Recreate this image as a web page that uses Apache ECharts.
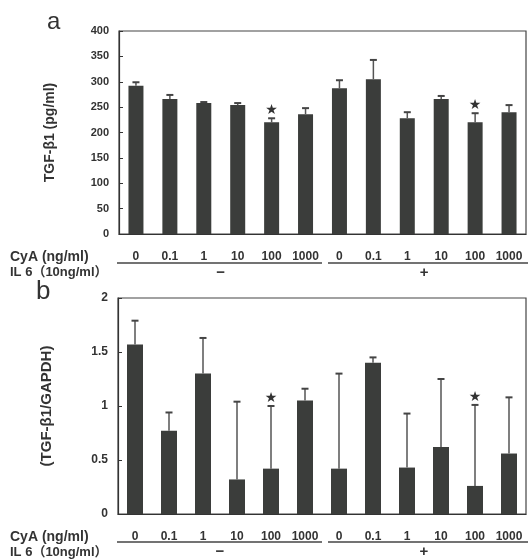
<!DOCTYPE html>
<html>
<head>
<meta charset="utf-8">
<script src="https://cdn.jsdelivr.net/npm/echarts@6/dist/echarts.min.js"></script>
<style>html,body{margin:0;padding:0;background:#fff;}#c{width:530px;height:560px;}</style>
</head>
<body>
<div id="c"></div>
<script>
// ---- data ----
const cyaLabels = ['0','0.1','1','10','100','1000','0','0.1','1','10','100','1000'];
const il6Groups = ['\u2212','+'];
const aMeans = [292, 266, 258, 254, 220, 236, 287, 305, 228, 266, 220, 240];
const aErrTop = [299, 274, 260, 258, 228, 248, 303, 343, 240, 272, 238, 254];
const bMeans = [1.57, 0.77, 1.30, 0.32, 0.42, 1.05, 0.42, 1.40, 0.43, 0.62, 0.26, 0.56];
const bErrTop = [1.79, 0.94, 1.63, 1.04, 1.00, 1.16, 1.30, 1.45, 0.93, 1.25, 1.01, 1.08];
const starFlags = [0,0,0,0,1,0,0,0,0,0,1,0];
const aTicks = [0, 50, 100, 150, 200, 250, 300, 350, 400];
const bTicks = [0, 0.5, 1, 1.5, 2];

const FONT = '"Liberation Sans", Arial, sans-serif';
const TXT = '#333';
const BAR = '#3b3d3b';

function errData(means, tops){
  return means.map((m,i)=>[i, m, tops[i], starFlags[i]]);
}
function renderErr(params, api){
  const i = api.value(0);
  const p0 = api.coord([i, api.value(1)]);
  const p1 = api.coord([i, api.value(2)]);
  const cap = 3.5;
  const children = [
    {type:'line', shape:{x1:p0[0], y1:p0[1], x2:p1[0], y2:p1[1]}, style:{stroke:'#555', lineWidth:1.5}},
    {type:'line', shape:{x1:p1[0]-cap, y1:p1[1], x2:p1[0]+cap, y2:p1[1]}, style:{stroke:'#444', lineWidth:2}}
  ];
  if (api.value(3)) {
    children.push({type:'text', style:{text:'\u2605', x:p1[0], y:p1[1]-8, align:'center', verticalAlign:'middle', fill:'#333', font:'14px "DejaVu Sans"'}});
  }
  return {type:'group', children};
}

function yAxisCfg(grid, max, interval, ticks, name, gap, nameSize, labelSize){
  return {
    type:'value', gridIndex:grid, min:0, max:max, interval:interval,
    name:name, nameLocation:'middle', nameGap:gap, nameRotate:90,
    nameTextStyle:{fontFamily:FONT, fontWeight:'bold', fontSize:nameSize, color:TXT},
    axisLine:{show:true, lineStyle:{color:'#333', width:1.2}},
    axisTick:{show:true, inside:true, length:4, lineStyle:{color:'#333'}},
    axisLabel:{margin:10, fontFamily:FONT, fontWeight:'bold', fontSize:labelSize, color:TXT,
      formatter:v=>{ const t = ticks.find(x=>Math.abs(x-v)<1e-9); return t===undefined?'':String(t); }},
    splitLine:{show:false}
  };
}
function xAxisMain(grid, margin){
  return {
    type:'category', gridIndex:grid, data:cyaLabels,
    axisLine:{show:true, lineStyle:{color:'#333', width:1.2}},
    axisTick:{show:false},
    axisLabel:{interval:0, margin:margin, fontFamily:FONT, fontWeight:'bold', fontSize:12, color:TXT}
  };
}
function xAxisGroup(grid, margin){
  return {
    type:'category', gridIndex:grid, data:il6Groups, position:'bottom',
    axisLine:{show:false}, axisTick:{show:false},
    axisLabel:{interval:0, margin:margin, fontFamily:FONT, fontWeight:'bold', fontSize:15, color:TXT}
  };
}

const chart = echarts.init(document.getElementById('c'), null, {renderer:'canvas'});
chart.setOption({
  backgroundColor:'#fff',
  animation:false,
  grid:[
    {left:119, top:31, right:4, height:203, show:true, borderColor:'#444', borderWidth:1.2, backgroundColor:'transparent'},
    {left:118, top:298, right:4, height:216, show:true, borderColor:'#444', borderWidth:1.2, backgroundColor:'transparent'}
  ],
  xAxis:[ xAxisMain(0, 17), xAxisGroup(0, 31), xAxisMain(1, 17), xAxisGroup(1, 30) ],
  yAxis:[
    yAxisCfg(0, 400, 50, aTicks, 'TGF-\u03b21 (pg/ml)', 62, 14, 11),
    yAxisCfg(1, 2, 0.5, bTicks, '(TGF-\u03b21/GAPDH)', 64, 15, 12)
  ],
  series:[
    {type:'bar', xAxisIndex:0, yAxisIndex:0, data:aMeans, barWidth:15, itemStyle:{color:BAR}},
    {type:'custom', xAxisIndex:0, yAxisIndex:0, data:errData(aMeans, aErrTop), renderItem:renderErr, z:3},
    {type:'bar', xAxisIndex:2, yAxisIndex:1, data:bMeans, barWidth:16, itemStyle:{color:BAR}},
    {type:'custom', xAxisIndex:2, yAxisIndex:1, data:errData(bMeans, bErrTop), renderItem:renderErr, z:3}
  ],
  graphic:[
    {type:'text', left:47, top:10, style:{text:'a', font:'24px "Liberation Sans", Arial', fill:'#333'}},
    {type:'text', left:36, top:279, style:{text:'b', font:'26px "Liberation Sans", Arial', fill:'#333'}},
    {type:'text', left:10, top:250, style:{text:'CyA (ng/ml)', font:'bold 14px "Liberation Sans", Arial', fill:TXT}},
    {type:'text', left:10, top:266, style:{text:'IL 6\uff0810ng/ml\uff09', font:'bold 13px "Liberation Sans", "Noto Sans CJK JP", Arial', fill:TXT}},
    {type:'text', left:10, top:530, style:{text:'CyA (ng/ml)', font:'bold 14px "Liberation Sans", Arial', fill:TXT}},
    {type:'text', left:10, top:546, style:{text:'IL 6\uff0810ng/ml\uff09', font:'bold 13px "Liberation Sans", "Noto Sans CJK JP", Arial', fill:TXT}},
    {type:'line', shape:{x1:117, y1:263, x2:322, y2:263}, style:{stroke:'#444', lineWidth:1.3}},
    {type:'line', shape:{x1:328, y1:263, x2:528, y2:263}, style:{stroke:'#444', lineWidth:1.3}},
    {type:'line', shape:{x1:117, y1:542, x2:322, y2:542}, style:{stroke:'#444', lineWidth:1.3}},
    {type:'line', shape:{x1:328, y1:542, x2:528, y2:542}, style:{stroke:'#444', lineWidth:1.3}}
  ]
});
</script>
</body>
</html>
